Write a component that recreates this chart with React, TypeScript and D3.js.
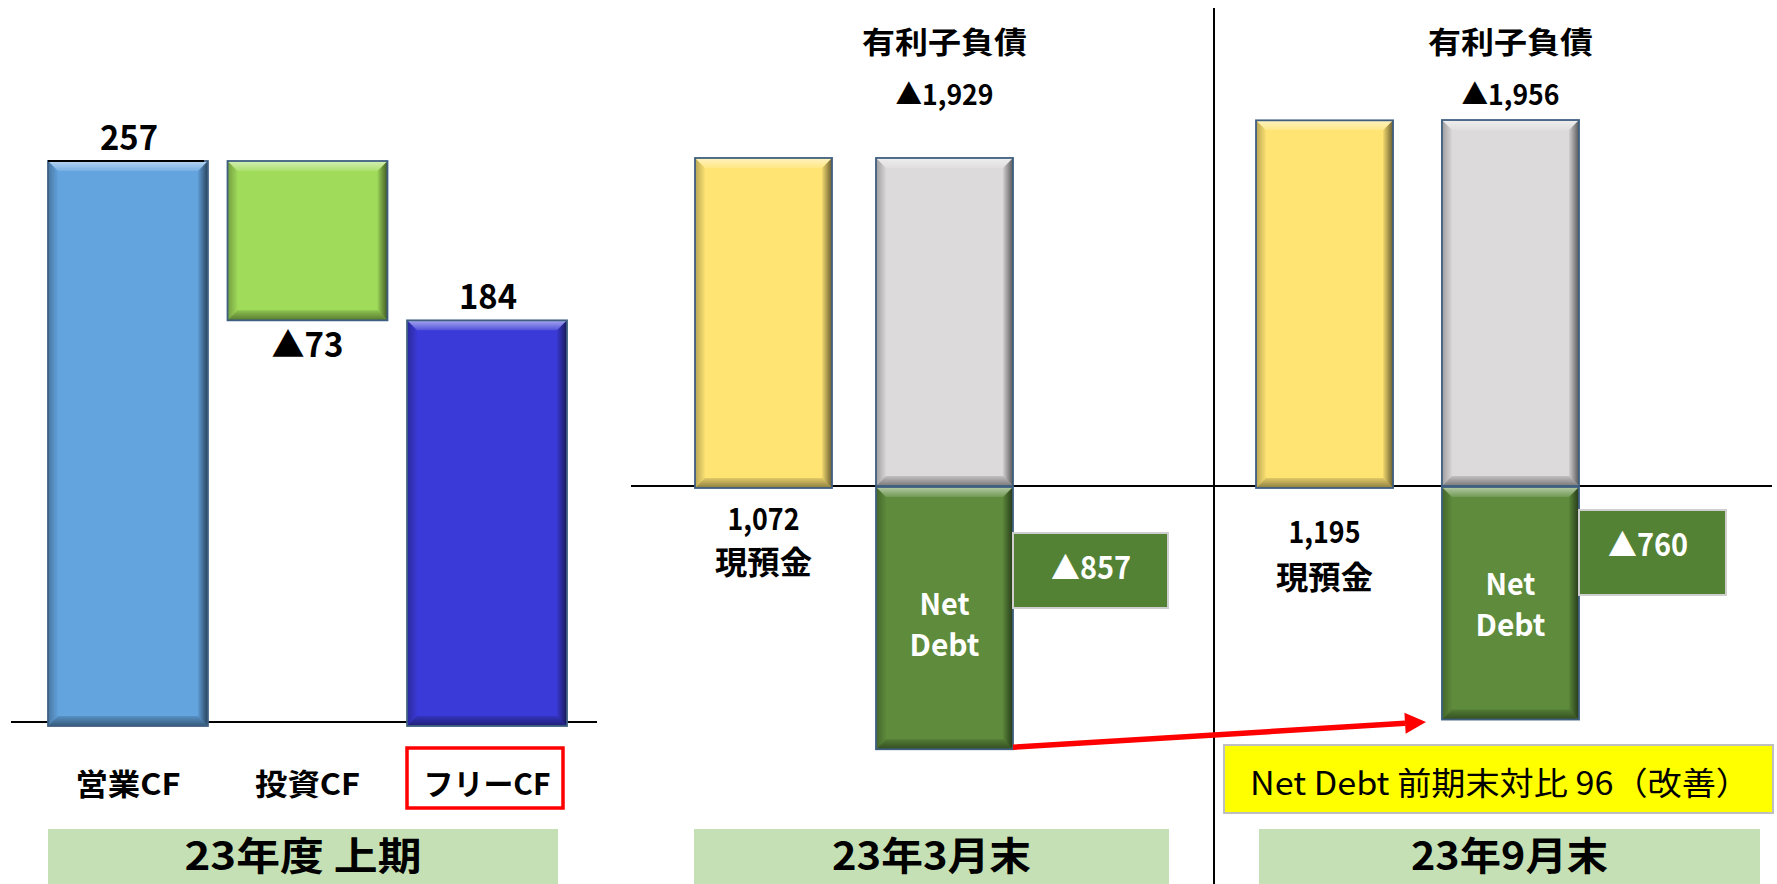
import React from 'react';
import * as d3 from 'd3';

// ---------- data ----------
const cfCategories = ['営業CF', '投資CF', 'フリーCF'];
const cfValues = [257, -73, 184];
const cfLabels = ['257', '▲73', '184'];
const cfColors = ['#63A4DF', '#A0DC5A', '#3A3AD8'];

const periods = ['23年3月末', '23年9月末'];
const cash = [1072, 1195];
const debt = [1929, 1956];
const netDebt = [857, 760];
const cashLabels = ['1,072', '1,195'];
const debtLabels = ['▲1,929', '▲1,956'];
const netDebtLabels = ['▲857', '▲760'];
const improvementNote = 'Net Debt 前期末対比 96（改善）';
const periodTitle = '23年度 上期';

const FONT = '"Noto Sans CJK JP", "Noto Sans", sans-serif';

type TProps = {
  x: number; y: number; text: string; size: number; w?: number;
  weight?: number; fill?: string; anchor?: string;
};
const T = ({ x, y, text, size, w, weight = 700, fill = '#000', anchor = 'middle' }: TProps) => (
  <text
    x={x}
    y={y}
    fontSize={size}
    fontWeight={weight}
    fill={fill}
    fontFamily={FONT}
    textAnchor={anchor as any}
    dominantBaseline="central"
    textLength={w}
    lengthAdjust={w ? 'spacingAndGlyphs' : undefined}
  >
    {text}
  </text>
);

const Bevel = ({ x, y, w, h, color, stroke = '#3F5F80' }: any) => {
  const b = Math.min(10, h / 3);
  return (
    <g>
      <rect x={x} y={y} width={w} height={h} fill={color} />
      <polygon points={`${x},${y} ${x + w},${y} ${x + w - b},${y + b} ${x + b},${y + b}`} fill="url(#gTop)" />
      <polygon points={`${x},${y + h} ${x + w},${y + h} ${x + w - b},${y + h - b} ${x + b},${y + h - b}`} fill="url(#gBot)" />
      <polygon points={`${x},${y} ${x + b},${y + b} ${x + b},${y + h - b} ${x},${y + h}`} fill="url(#gLeft)" />
      <polygon points={`${x + w},${y} ${x + w - b},${y + b} ${x + w - b},${y + h - b} ${x + w},${y + h}`} fill="url(#gRight)" />
      <rect x={x} y={y} width={w} height={h} fill="none" stroke={stroke} strokeWidth={1.8} />
    </g>
  );
};

export default function App() {
  const W = 1777;
  const H = 884;

  // ---------- left panel: cash flow waterfall ----------
  const xCF = d3.scaleBand<string>().domain(cfCategories).range([48, 567]).paddingInner(0.109).paddingOuter(0);
  const yCF = d3.scaleLinear().domain([0, 257]).range([722, 161]);
  let run = 0;
  const cfBars = cfCategories.map((c, i) => {
    let y0: number, y1: number;
    if (i === cfCategories.length - 1) {
      y0 = 0; y1 = cfValues[i];
    } else {
      y0 = run; y1 = run + cfValues[i]; run = y1;
    }
    return { c, lo: Math.min(y0, y1), hi: Math.max(y0, y1), v: cfValues[i], label: cfLabels[i], color: cfColors[i] };
  });

  // ---------- debt panels ----------
  const yD = d3.scaleLinear().domain([0, 1000]).range([486, 180]);
  const panelRanges: [number, number][] = [[695, 1013], [1256, 1579]];
  const panels = periods.map((p, i) => {
    const xs = d3.scaleBand<string>().domain(['cash', 'debt']).range(panelRanges[i]).paddingInner(i === 0 ? 0.243 : 0.263).paddingOuter(0);
    return { p, i, xs };
  });
  const cashLabelY = [[517, 560], [530, 575]];
  const netLabelY = [[602, 643], [582, 623]];
  const deltaBox = [
    { x0: 1013, x1: 1168, y0: 533, y1: 608, ty: 565, tx: 1091 },
    { x0: 1579, x1: 1726, y0: 510, y1: 595, ty: 542, tx: 1648 },
  ];
  const bands = [
    { x0: 48, x1: 558, text: periodTitle, w: 237 },
    { x0: 694, x1: 1169, text: periods[0], w: 199 },
    { x0: 1259, x1: 1760, text: periods[1], w: 197 },
  ];

  // arrow from first net debt bar bottom to second
  const p0 = panels[0];
  const ax0 = (p0.xs('debt') as number) + p0.xs.bandwidth();
  const ay0 = yD(-netDebt[0]) - 1;
  const ax1 = 1426;
  const ay1 = 722;
  const ang = Math.atan2(ay1 - ay0, ax1 - ax0);
  const hl = 21, hw = 10.5;
  const bx = ax1 - hl * Math.cos(ang), by = ay1 - hl * Math.sin(ang);
  const head = `${ax1},${ay1} ${bx - hw * Math.sin(ang)},${by + hw * Math.cos(ang)} ${bx + hw * Math.sin(ang)},${by - hw * Math.cos(ang)}`;

  return (
    <svg width={W} height={H} style={{ position: 'fixed', left: 0, top: 0, background: '#fff' }}>
      <defs>
        <linearGradient id="gTop" x1="0" y1="0" x2="0" y2="1">
          <stop offset="0" stopColor="#fff" stopOpacity={0.55} />
          <stop offset="1" stopColor="#fff" stopOpacity={0.12} />
        </linearGradient>
        <linearGradient id="gBot" x1="0" y1="1" x2="0" y2="0">
          <stop offset="0" stopColor="#000" stopOpacity={0.45} />
          <stop offset="1" stopColor="#000" stopOpacity={0.12} />
        </linearGradient>
        <linearGradient id="gLeft" x1="0" y1="0" x2="1" y2="0">
          <stop offset="0" stopColor="#000" stopOpacity={0.28} />
          <stop offset="1" stopColor="#000" stopOpacity={0.02} />
        </linearGradient>
        <linearGradient id="gRight" x1="1" y1="0" x2="0" y2="0">
          <stop offset="0" stopColor="#000" stopOpacity={0.6} />
          <stop offset="1" stopColor="#000" stopOpacity={0.05} />
        </linearGradient>
      </defs>

      {/* left panel */}
      <line x1={11} x2={597} y1={yCF(0)} y2={yCF(0)} stroke="#000" strokeWidth={2} />
      {cfBars.map((b, i) => {
        const x = xCF(b.c) as number;
        const bw = xCF.bandwidth();
        const top = yCF(b.hi);
        const bot = yCF(b.lo);
        const extra = b.lo === 0 ? 4 : 0;
        return (
          <g key={b.c}>
            <Bevel x={x} y={top} w={bw} h={bot - top + extra} color={b.color} />
            {i === 0 && <line x1={x} x2={x + bw - 4} y1={top} y2={top} stroke="#000" strokeWidth={2} />}
            {b.v >= 0 ? (
              <T x={x + bw / 2 + 1} y={top - 26} text={b.label} size={34} w={58} />
            ) : (
              <T x={x + bw / 2} y={bot + 22} text={b.label} size={34} w={72} />
            )}
            <T x={x + bw / 2} y={782} text={b.c} size={30} w={i === 2 ? 127 : 105} />
          </g>
        );
      })}
      <rect x={407} y={748} width={156} height={60} fill="none" stroke="#FF0000" strokeWidth={3.5} />

      {/* divider & baseline for debt panels */}
      <line x1={1214} x2={1214} y1={8} y2={H} stroke="#000" strokeWidth={2} />
      <line x1={631} x2={1772} y1={yD(0)} y2={yD(0)} stroke="#000" strokeWidth={2} />

      {panels.map(({ p, i, xs }) => {
        const cx = xs('cash') as number;
        const dx = xs('debt') as number;
        const bw = xs.bandwidth();
        const dcx = dx + bw / 2;
        const db = deltaBox[i];
        return (
          <g key={p}>
            <T x={dcx} y={40} text="有利子負債" size={30} w={165} />
            <T x={dcx} y={93} text={debtLabels[i]} size={28} w={98} />
            <Bevel x={cx} y={yD(cash[i])} w={bw} h={yD(0) - yD(cash[i]) + 2} color="#FFE474" />
            <Bevel x={dx} y={yD(debt[i] - netDebt[i])} w={bw} h={yD(0) - yD(debt[i] - netDebt[i])} color="#DCDADB" />
            <Bevel x={dx} y={yD(0) + 1} w={bw} h={yD(-netDebt[i]) - yD(0)} color="#5E8C3C" />
            <T x={cx + bw / 2} y={cashLabelY[i][0]} text={cashLabels[i]} size={30} w={72} />
            <T x={cx + bw / 2} y={cashLabelY[i][1]} text="現預金" size={32} w={97} />
            <T x={dcx} y={netLabelY[i][0]} text="Net" size={30} w={50} fill="#fff" weight={600} />
            <T x={dcx} y={netLabelY[i][1]} text="Debt" size={30} w={70} fill="#fff" weight={600} />
            <rect x={db.x0} y={db.y0} width={db.x1 - db.x0} height={db.y1 - db.y0} fill="#548235" stroke="#CFCFCF" strokeWidth={2} />
            <T x={db.tx} y={db.ty} text={netDebtLabels[i]} size={31} w={80} fill="#fff" weight={600} />
          </g>
        );
      })}

      {/* arrow */}
      <line x1={ax0} y1={ay0} x2={bx} y2={by} stroke="#FF0000" strokeWidth={5.5} />
      <polygon points={head} fill="#FF0000" />

      {/* note */}
      <rect x={1224} y={745} width={549} height={68} fill="#FFFF00" stroke="#BFBFBF" strokeWidth={2} />
      <T x={1500} y={781} text={improvementNote} size={32} w={500} weight={400} />

      {/* bottom bands */}
      {bands.map((b) => (
        <g key={b.text}>
          <rect x={b.x0} y={829} width={b.x1 - b.x0} height={60} fill="#C5E0B4" />
          <T x={(b.x0 + b.x1) / 2} y={853} text={b.text} size={39} w={b.w} />
        </g>
      ))}
    </svg>
  );
}
